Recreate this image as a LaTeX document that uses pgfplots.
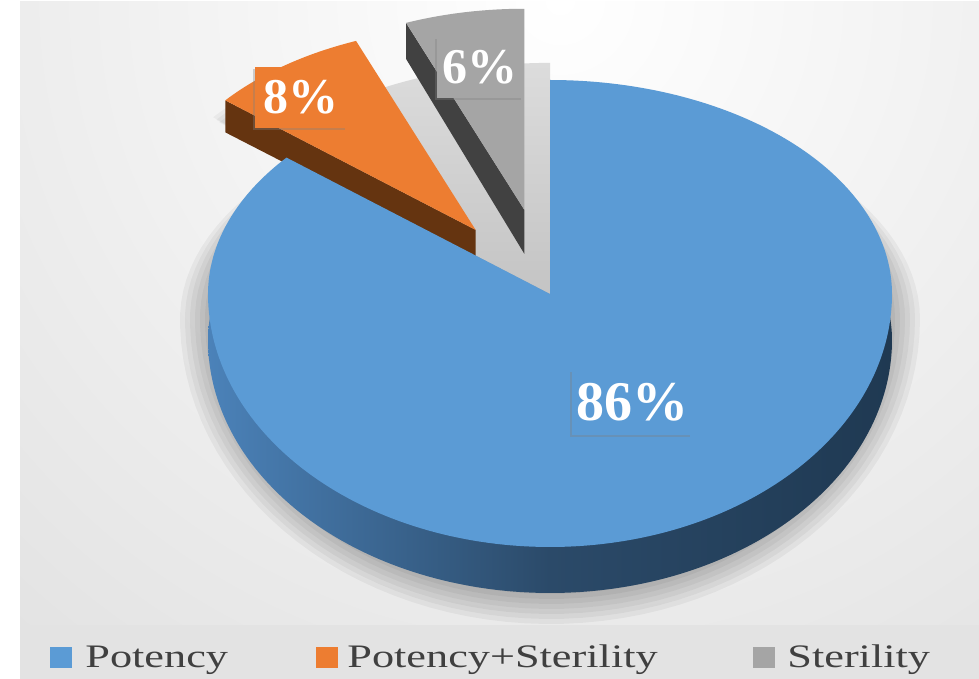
\documentclass[border=0pt]{standalone}
\usepackage{pgfplots}
\pgfplotsset{compat=1.18}
\usepackage{fontspec}
\setmainfont{Liberation Serif}
\newfontfamily\legfont[FakeStretch=1.35]{Liberation Serif}
\usetikzlibrary{shadows}
\definecolor{pblue}{HTML}{5B9BD5}
\definecolor{porange}{HTML}{ED7D31}
\definecolor{pgray}{HTML}{A5A5A5}
\definecolor{pbrown}{HTML}{653410}
\definecolor{pdark}{HTML}{414141}
\definecolor{sideL}{HTML}{4B82B9}
\definecolor{sideM}{HTML}{2B4A69}
\definecolor{sideR}{HTML}{1F3952}
\definecolor{bgout}{HTML}{D0D0D0}
\definecolor{legbg}{HTML}{E3E3E3}
\definecolor{notchT}{HTML}{DCDCDC}
\definecolor{notchB}{HTML}{C4C4C4}
\definecolor{legtext}{HTML}{404040}
\begin{document}
\begin{tikzpicture}
% ---- data (percent shares) ----
\def\vA{86}% Potency
\def\vB{8}% Potency+Sterility
\def\vC{6}% Sterility
% ---- angles (clockwise from 12 o'clock) ----
\pgfmathsetmacro\bS{90-3.6*\vA}
\pgfmathsetmacro\oS{450-3.6*(\vA+\vB)}
\pgfmathsetmacro\oE{450-3.6*\vA}
\pgfmathsetmacro\gS{450-3.6*(\vA+\vB+\vC)}
\pgfmathsetmacro\gE{\oS}
% ---- exploded centres ----
\pgfmathsetmacro\oM{(\oS+\oE)/2}
\pgfmathsetmacro\ocx{550+0.37*342*cos(\oM)}
\pgfmathsetmacro\ocy{385+0.37*214*sin(\oM)}
\pgfmathsetmacro\gM{(\gS+\gE)/2}
\pgfmathsetmacro\gcx{550+0.40*342*cos(\gM)}
\pgfmathsetmacro\gcy{385+0.40*214*sin(\gM)}
\pgfmathsetmacro\oOx{\ocx+0.95*342*cos(\oE)}
\pgfmathsetmacro\oOy{\ocy+0.95*214*sin(\oE)}
\pgfmathsetmacro\oOyB{\oOy-32}
\pgfmathsetmacro\ocyB{\ocy-31}
\pgfmathsetmacro\gOx{\gcx+0.94*342*cos(\gE)}
\pgfmathsetmacro\gOy{\gcy+0.94*214*sin(\gE)}
\pgfmathsetmacro\gOyB{\gOy-36}
\pgfmathsetmacro\gcyB{\gcy-44}
\begin{axis}[scale only axis, width=489.5pt, height=339.5pt,
  xmin=0, xmax=979, ymin=0, ymax=679, axis lines=none, ticks=none, clip=false,
  declare function={px(\t,\c,\s)=\c+342*\s*cos(\t);
                    py(\t,\c,\s)=\c+((sin(\t)>0)?214:253)*\s*sin(\t);}]
% background
\fill[white] (axis cs:0,0) rectangle (axis cs:979,679);
\begin{scope}
\clip (axis cs:20,54) rectangle (axis cs:979,677);
\shade[overlay, inner color=white, outer color=bgout] (axis cs:560,679) circle[radius=700pt];
\end{scope}
\fill[legbg] (axis cs:20,0) rectangle (axis cs:979,54);
% soft shadow of the pie
\pgfplotsinvokeforeach{0,5,10,15,20,25,30}{
\addplot[draw=none, fill=black, fill opacity=0.042, domain=0:360, samples=120, variable=\t]
  ({550+(340+#1)*cos(\t)}, {360+((sin(\t)>0)?214:(275+#1))*sin(\t)}) -- cycle;
}
% soft shadow of the exploded slices
\pgfplotsinvokeforeach{0,4,8}{
\addplot[draw=none, fill=black, fill opacity=0.04, domain=\oS:\oE, samples=30, variable=\t]
  ({\ocx-6+(0.95*342+#1)*cos(\t)}, {\ocy-22+(0.95*214+#1)*sin(\t)}) -- (axis cs:\ocx,\ocyB) -- cycle;
}
% shadow seen through the gap
\addplot[draw=none, top color=notchT, bottom color=notchB, domain=\gS:\oE, samples=40, variable=\t]
  ({550+1.08*342*cos(\t)}, {385+1.08*214*sin(\t)}) -- (axis cs:550,385) -- cycle;
% Sterility (exploded)
\fill[pdark] (axis cs:\gcx,\gcy) -- (axis cs:\gOx,\gOy) -- (axis cs:\gOx,\gOyB) -- (axis cs:\gcx,\gcyB) -- cycle;
\addplot[draw=none, fill=pgray, domain=\gS:\gE, samples=40, variable=\t]
  ({\gcx+0.94*342*cos(\t)}, {\gcy+0.94*214*sin(\t)}) -- (axis cs:\gcx,\gcy) -- cycle;
% Potency+Sterility (exploded)
\fill[pbrown] (axis cs:\ocx,\ocy) -- (axis cs:\oOx,\oOy) -- (axis cs:\oOx,\oOyB) -- (axis cs:\ocx,\ocyB) -- cycle;
\addplot[draw=none, fill=porange, domain=\oS:\oE, samples=40, variable=\t]
  ({\ocx+0.95*342*cos(\t)}, {\ocy+0.95*214*sin(\t)}) -- (axis cs:\ocx,\ocy) -- cycle;
% Potency: side then top
\addplot[draw=none, left color=sideL, right color=sideR, middle color=sideM, domain=\bS:90, samples=240, variable=\t]
  ({px(\t,550,1)}, {py(\t,339,1)}) -- (axis cs:550,339) -- cycle;
\addplot[draw=none, fill=pblue, domain=\bS:90, samples=240, variable=\t]
  ({px(\t,550,1)}, {py(\t,385,1)}) -- (axis cs:550,385) -- cycle;
% data labels
\node[fill=pblue, drop shadow={shadow xshift=-1pt, shadow yshift=-1pt, opacity=0.35},
  minimum width=60pt, minimum height=32.5pt, inner sep=0pt, text=white,
  font=\fontsize{28}{30}\selectfont\bfseries] at (axis cs:632,276.5) {86\%};
\node[fill=porange, drop shadow={shadow xshift=-1pt, shadow yshift=-1pt, opacity=0.35},
  minimum width=46pt, minimum height=30.5pt, inner sep=0pt, text=white,
  font=\fontsize{25}{27}\selectfont\bfseries] at (axis cs:301,581.5) {8\%};
\node[fill=pgray, drop shadow={shadow xshift=-1pt, shadow yshift=-1pt, opacity=0.35},
  minimum width=43pt, minimum height=30.5pt, inner sep=0pt, text=white,
  font=\fontsize{25}{27}\selectfont\bfseries] at (axis cs:480,611.5) {6\%};
% legend
\fill[pblue] (axis cs:50,11) rectangle (axis cs:72,32);
\node[anchor=base west, inner sep=0pt, text=legtext, font={\legfont\fontsize{16.4}{18}\selectfont}] at (axis cs:85,11) {Potency};
\fill[porange] (axis cs:316,11) rectangle (axis cs:338,32);
\node[anchor=base west, inner sep=0pt, text=legtext, font={\legfont\fontsize{16.4}{18}\selectfont}] at (axis cs:347,11) {Potency+Sterility};
\fill[pgray] (axis cs:753,11) rectangle (axis cs:775,32);
\node[anchor=base west, inner sep=0pt, text=legtext, font={\legfont\fontsize{16.4}{18}\selectfont}] at (axis cs:787,11) {Sterility};
\end{axis}
\end{tikzpicture}
\end{document}
